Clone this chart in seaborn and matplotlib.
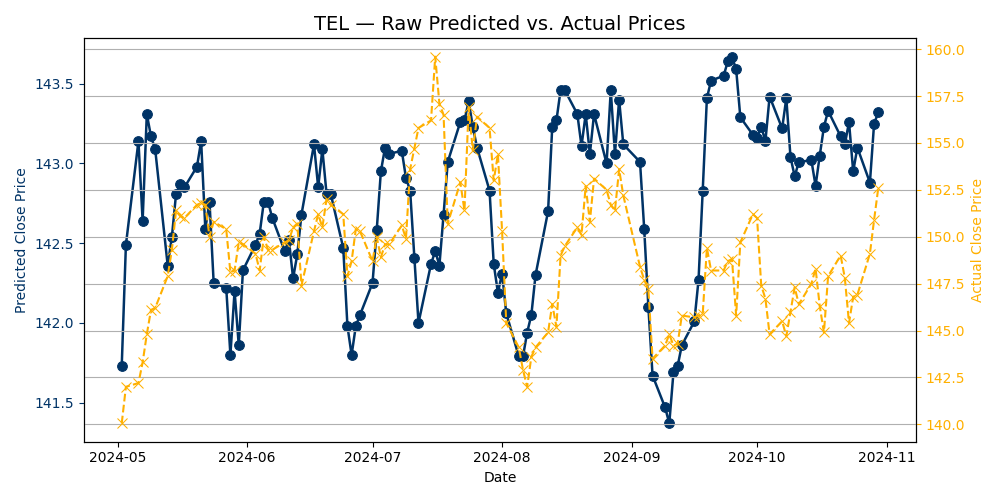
import pandas as pd
import seaborn as sns
import matplotlib.pyplot as plt
import numpy as np

# trading days May 2 - Oct 30 2024 (Labor Day dropped)
dates = pd.bdate_range("2024-05-02", "2024-10-30")
dates = dates[dates != pd.Timestamp("2024-09-02")]

predicted = [141.73, 142.49, 143.14, 142.64, 143.31, 143.17, 143.09, 142.36, 142.54, 142.81,
             142.87, 142.85, 142.98, 143.14, 142.59, 142.76, 142.25, 142.22, 141.80, 142.20,
             141.86, 142.33, 142.49, 142.56, 142.76, 142.76, 142.66, 142.45, 142.52, 142.28,
             142.43, 142.68, 143.12, 142.85, 143.09, 142.81, 142.81, 142.47, 141.98, 141.80,
             141.98, 142.05, 142.25, 142.58, 142.95, 143.10, 143.06, 143.08, 142.91, 142.83,
             142.41, 142.00, 142.37, 142.45, 142.36, 142.68, 143.01, 143.26, 143.27, 143.39,
             143.23, 143.10, 142.83, 142.37, 142.19, 142.31, 142.06, 141.79, 141.79, 141.94,
             142.05, 142.30, 142.70, 143.23, 143.27, 143.46, 143.46, 143.31, 143.11, 143.31,
             143.06, 143.31, 143.00, 143.46, 143.06, 143.40, 143.12, 143.01, 142.59, 142.10,
             141.67, 141.47, 141.37, 141.69, 141.73, 141.86, 142.01, 142.27, 142.83, 143.41,
             143.52, 143.55, 143.64, 143.67, 143.59, 143.29, 143.18, 143.16, 143.23, 143.14,
             143.42, 143.22, 143.41, 143.04, 142.92, 143.01, 143.02, 142.86, 143.05, 143.23,
             143.33, 143.17, 143.12, 143.26, 142.95, 143.10, 142.88, 143.25, 143.32]

actual = [140.05, 142.0, 142.2, 143.3, 144.8, 146.1, 146.2, 147.9, 149.3, 151.4,
          151.1, 151.0, 151.7, 151.8, 151.7, 150.0, 150.8, 150.4, 148.1, 148.2,
          149.7, 149.6, 149.1, 148.2, 150.0, 149.3, 149.3, 149.7, 149.8, 150.5,
          150.7, 147.4, 150.3, 151.2, 150.5, 152.0, 151.7, 151.2, 147.9, 148.7,
          150.4, 150.3, 148.7, 150.0, 148.9, 149.6, 149.6, 150.6, 149.9, 153.6,
          154.7, 155.8, 156.2, 159.6, 157.1, 156.5, 150.7, 152.9, 151.4, 156.9,
          154.6, 156.4, 155.8, 153.0, 154.4, 150.3, 145.4, 144.1, 142.9, 142.0,
          143.6, 144.1, 144.9, 146.4, 145.2, 149.0, 149.5, 150.5, 150.1, 152.7,
          150.8, 153.1, 152.5, 151.7, 151.4, 153.6, 152.2, 148.4, 147.7, 147.2,
          143.5, 144.2, 144.8, 144.2, 144.3, 145.8, 145.7, 145.8, 145.9, 149.4,
          148.2, 148.2, 148.7, 148.8, 145.8, 149.7, 151.2, 151.0, 147.4, 146.7,
          144.8, 145.5, 144.7, 146.0, 147.3, 146.4, 147.5, 148.3, 146.3, 144.9,
          147.9, 149.0, 147.8, 145.4, 146.8, 146.9, 149.1, 150.9, 152.6]

df = pd.DataFrame({"Date": dates, "Predicted": predicted, "Actual": actual})

blue = "#003366"
orange = "#FFB000"

fig, ax = plt.subplots(figsize=(10, 5), dpi=100)
sns.lineplot(data=df, x="Date", y="Predicted", ax=ax, color=blue, marker="o",
             markersize=7, markeredgecolor=blue, linewidth=1.8)
ax.set_ylabel("Predicted Close Price", color=blue)
ax.tick_params(axis="y", colors=blue)
ax.set_xlabel("Date")

ax2 = ax.twinx()
sns.lineplot(data=df, x="Date", y="Actual", ax=ax2, color=orange, marker="x",
             markersize=7, markeredgecolor=orange, linestyle="--", linewidth=1.5)
ax2.set_ylabel("Actual Close Price", color=orange)
ax2.tick_params(axis="y", colors=orange)
ax2.grid(True, color="#b0b0b0")
ax.set_xticks(pd.date_range("2024-05-01", "2024-11-01", freq="MS"))
ax.xaxis.set_major_formatter(plt.matplotlib.dates.DateFormatter("%Y-%m"))

ax.set_title("TEL — Raw Predicted vs. Actual Prices", fontsize=14)
fig.tight_layout()
fig.savefig("out.png")
